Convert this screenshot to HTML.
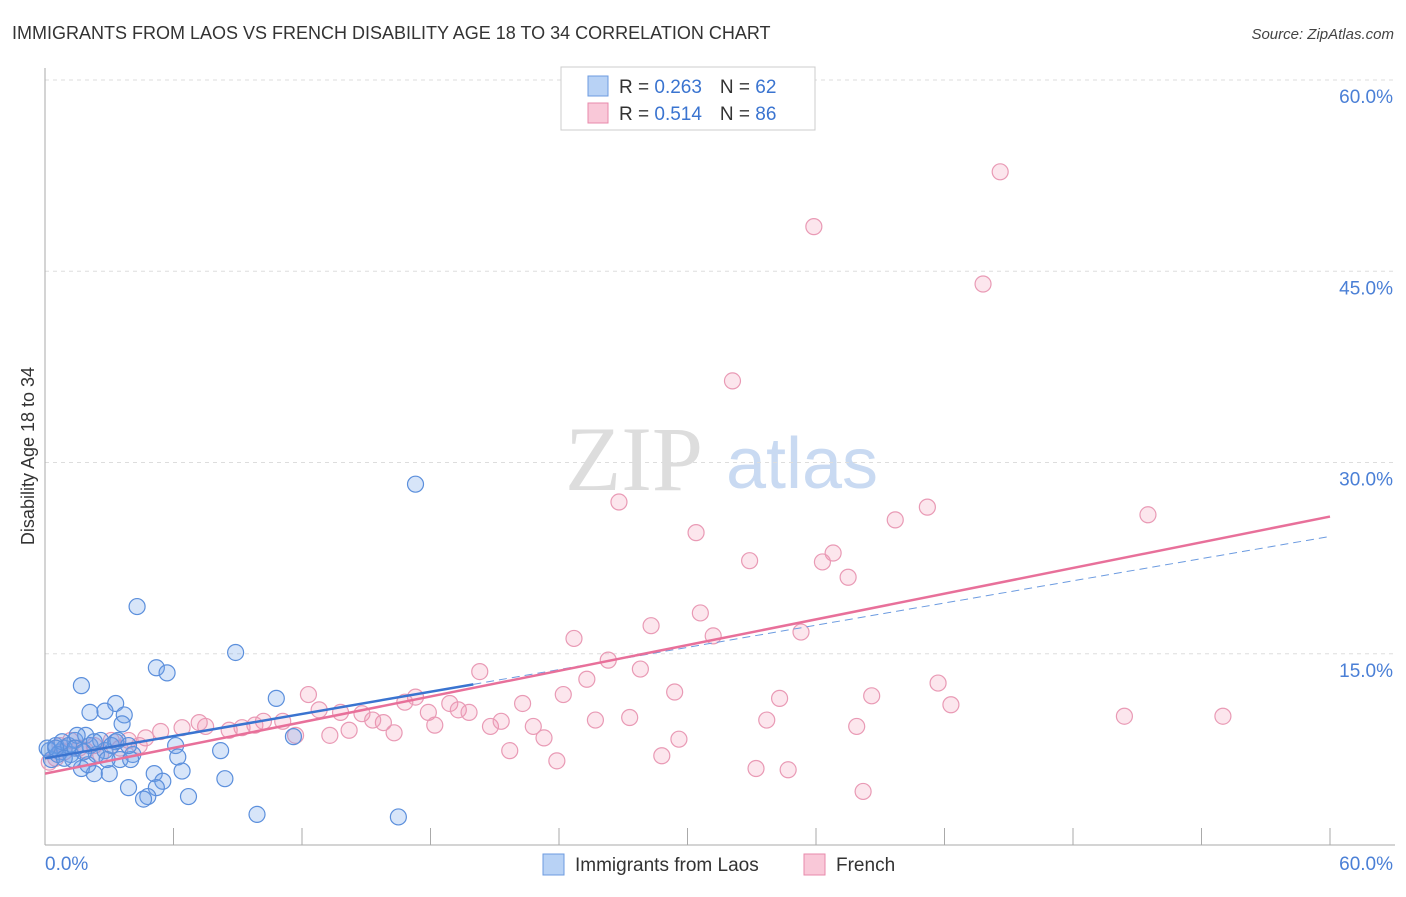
<!DOCTYPE html>
<html><head><meta charset="utf-8"><style>
body{margin:0;background:#fff;font-family:"Liberation Sans",sans-serif;}
</style></head><body>
<svg id="chart" width="1406" height="892" xmlns="http://www.w3.org/2000/svg" font-family="Liberation Sans, sans-serif">
<text x="12" y="39" font-size="18" fill="#333">IMMIGRANTS FROM LAOS VS FRENCH DISABILITY AGE 18 TO 34 CORRELATION CHART</text>
<text x="1394" y="39" font-size="15" fill="#444" text-anchor="end" font-style="italic">Source: ZipAtlas.com</text>
<g>
<text x="634" y="490" font-size="92" fill="#ddd" font-family="Liberation Serif, serif" text-anchor="middle">ZIP</text>
<text x="802" y="488" font-size="72" fill="#c9daf2" text-anchor="middle">atlas</text>
</g>
<g id="grid"></g>
<g id="axes"></g>
<text transform="translate(34,456) rotate(-90)" font-size="18" fill="#333" text-anchor="middle">Disability Age 18 to 34</text>
<g id="marks"></g>
<g id="trends"></g>
<g>
<rect x="561" y="67" width="254" height="63" fill="#fff" stroke="#ccc"/>
<rect x="588" y="76" width="20" height="20" fill="#b8d2f5" stroke="#6c9be0"/>
<rect x="588" y="103" width="20" height="20" fill="#f9c8d8" stroke="#e88aab"/>
<text x="619" y="93" font-size="19" fill="#333">R = <tspan fill="#3a74d0">0.263</tspan><tspan dx="18">N = </tspan><tspan fill="#3a74d0">62</tspan></text>
<text x="619" y="120" font-size="19" fill="#333">R = <tspan fill="#3a74d0">0.514</tspan><tspan dx="18">N = </tspan><tspan fill="#3a74d0">86</tspan></text>
</g>
<g>
<rect x="543" y="854" width="21" height="21" fill="#b8d2f5" stroke="#6c9be0"/>
<text x="575" y="871" font-size="19" fill="#333">Immigrants from Laos</text>
<rect x="804" y="854" width="21" height="21" fill="#f9c8d8" stroke="#e88aab"/>
<text x="836" y="871" font-size="19" fill="#333">French</text>
</g>
</svg>
<script>
const yTicks=[15,30,45,60];
const yTickLabels=["15.0%","30.0%","45.0%","60.0%"];
const xTicks=[0,6,12,18,24,30,36,42,48,54,60];
const laosX=[4.3,5.2,5.7,8.9,1.7,3.3,2.1,2.8,3.7,3.6,10.8,11.6,17.3,6.1,8.2,6.2,4.1,6.4,5.1,5.5,8.4,3.9,5.2,4.8,4.6,6.7,9.9,16.5,3.0,2.3,1.7,0.2,0.5,0.7,0.9,1.2,1.4,1.9,2.1,2.6,2.8,3.3,3.5,4.0,0.3,0.6,0.8,1.1,1.3,1.5,2.0,2.4,3.1,0.1,0.5,0.9,1.4,1.8,2.3,2.9,3.4,3.9];
const laosY=[18.7,13.9,13.5,15.1,12.5,11.1,10.4,10.5,10.2,9.5,11.5,8.5,28.3,7.8,7.4,6.9,7.1,5.8,5.6,5.0,5.2,4.5,4.5,3.8,3.6,3.8,2.4,2.2,5.6,5.6,6.0,7.4,7.8,7.3,7.6,7.1,8.2,8.6,7.8,8.2,7.4,8.1,6.7,6.7,6.7,7.1,8.1,7.8,6.7,8.6,6.3,7.1,7.8,7.6,7.6,6.8,7.6,7.3,8.1,6.7,8.2,7.8];
const frX=[44.6,35.9,43.8,32.1,26.8,30.4,41.2,39.7,51.5,36.8,36.3,32.9,37.5,30.6,28.3,35.3,31.2,24.7,26.3,27.8,20.3,25.3,29.4,41.7,38.6,34.3,42.3,12.3,17.3,22.3,24.2,16.8,12.8,13.8,14.8,17.9,18.9,19.3,19.8,25.7,27.3,33.7,37.9,50.4,55.0,20.8,21.3,22.8,15.8,15.3,14.2,13.3,16.3,18.2,23.3,29.6,21.7,23.9,28.8,33.2,34.7,38.2,11.7,11.1,10.2,9.2,8.6,7.5,6.4,5.4,4.7,3.9,3.1,2.3,1.6,0.9,0.5,0.2,0.7,1.2,1.9,2.6,3.5,4.4,7.2,9.8];
const frY=[52.8,48.5,44.0,36.4,26.9,24.5,26.5,25.5,25.9,22.9,22.2,22.3,21.0,18.2,17.2,16.7,16.4,16.2,14.5,13.8,13.6,13.0,12.0,12.7,11.7,11.5,11.0,11.8,11.6,11.1,11.8,11.2,10.6,10.4,10.3,10.4,11.1,10.6,10.4,9.8,10.0,9.8,9.3,10.1,10.1,9.3,9.7,9.3,9.6,9.8,9.0,8.6,8.8,9.4,8.4,8.3,7.4,6.6,7.0,6.0,5.9,4.2,8.6,9.7,9.7,9.2,9.0,9.3,9.2,8.9,8.4,8.2,8.2,7.8,7.6,7.3,6.8,6.5,7.8,8.2,7.4,7.1,7.6,7.8,9.6,9.4];
const laosTrend=[6.8,0.29];
const frTrend=[5.6,0.336];
const NS="http://www.w3.org/2000/svg";
const sx=v=>45+v*(1285/60);
const sy=v=>845-v*(765/60);
function mk(tag,attrs,parent){const e=document.createElementNS(NS,tag);for(const k in attrs)e.setAttribute(k,attrs[k]);parent.appendChild(e);return e;}
const grid=document.getElementById('grid'),axes=document.getElementById('axes'),marks=document.getElementById('marks'),trends=document.getElementById('trends');
yTicks.forEach((t,i)=>{
 const l=mk('line',{x1:45,x2:1395,y1:sy(t),y2:sy(t),stroke:'#ddd','stroke-dasharray':'4,4'},grid);
 
 
 const tx=mk('text',{x:1393,y:sy(t)+23,'font-size':19,fill:'#4a7fd6','text-anchor':'end'},grid);
 tx.textContent=yTickLabels[i];
 
 
});
const ya=mk('line',{x1:45,x2:45,y1:68,y2:845,stroke:'#aaa'},axes);


const xa=mk('line',{x1:45,x2:1395,y1:845,y2:845,stroke:'#aaa'},axes);


xTicks.forEach(t=>{
 const l=mk('line',{x1:sx(t),x2:sx(t),y1:828,y2:845,stroke:'#aaa'},axes);
 
 
});
const xl0=mk('text',{x:45,y:870,'font-size':19,fill:'#4a7fd6'},axes);xl0.textContent='0.0%';


const xl1=mk('text',{x:1393,y:870,'font-size':19,fill:'#4a7fd6','text-anchor':'end'},axes);xl1.textContent='60.0%';


frX.forEach((x,i)=>{
 const c=mk('circle',{cx:sx(x),cy:sy(frY[i]),r:8,fill:'rgba(240,140,175,0.22)',stroke:'#e99ab5','stroke-width':1.2},marks);
 
 
});
laosX.forEach((x,i)=>{
 const c=mk('circle',{cx:sx(x),cy:sy(laosY[i]),r:8,fill:'rgba(110,160,235,0.28)',stroke:'#5b8fdc','stroke-width':1.2},marks);
 
 
});
const ld=mk('line',{x1:sx(20),y1:sy(laosTrend[0]+laosTrend[1]*20),x2:sx(60),y2:sy(laosTrend[0]+laosTrend[1]*60),stroke:'#6c9be0','stroke-width':1,'stroke-dasharray':'8,5'},trends);


const fl=mk('line',{x1:sx(0),y1:sy(frTrend[0]),x2:sx(60),y2:sy(frTrend[0]+frTrend[1]*60),stroke:'#e8709a','stroke-width':2.5},trends);


const ls=mk('line',{x1:sx(0),y1:sy(laosTrend[0]),x2:sx(20),y2:sy(laosTrend[0]+laosTrend[1]*20),stroke:'#3a74d0','stroke-width':2.5},trends);


</script>
</body></html>
